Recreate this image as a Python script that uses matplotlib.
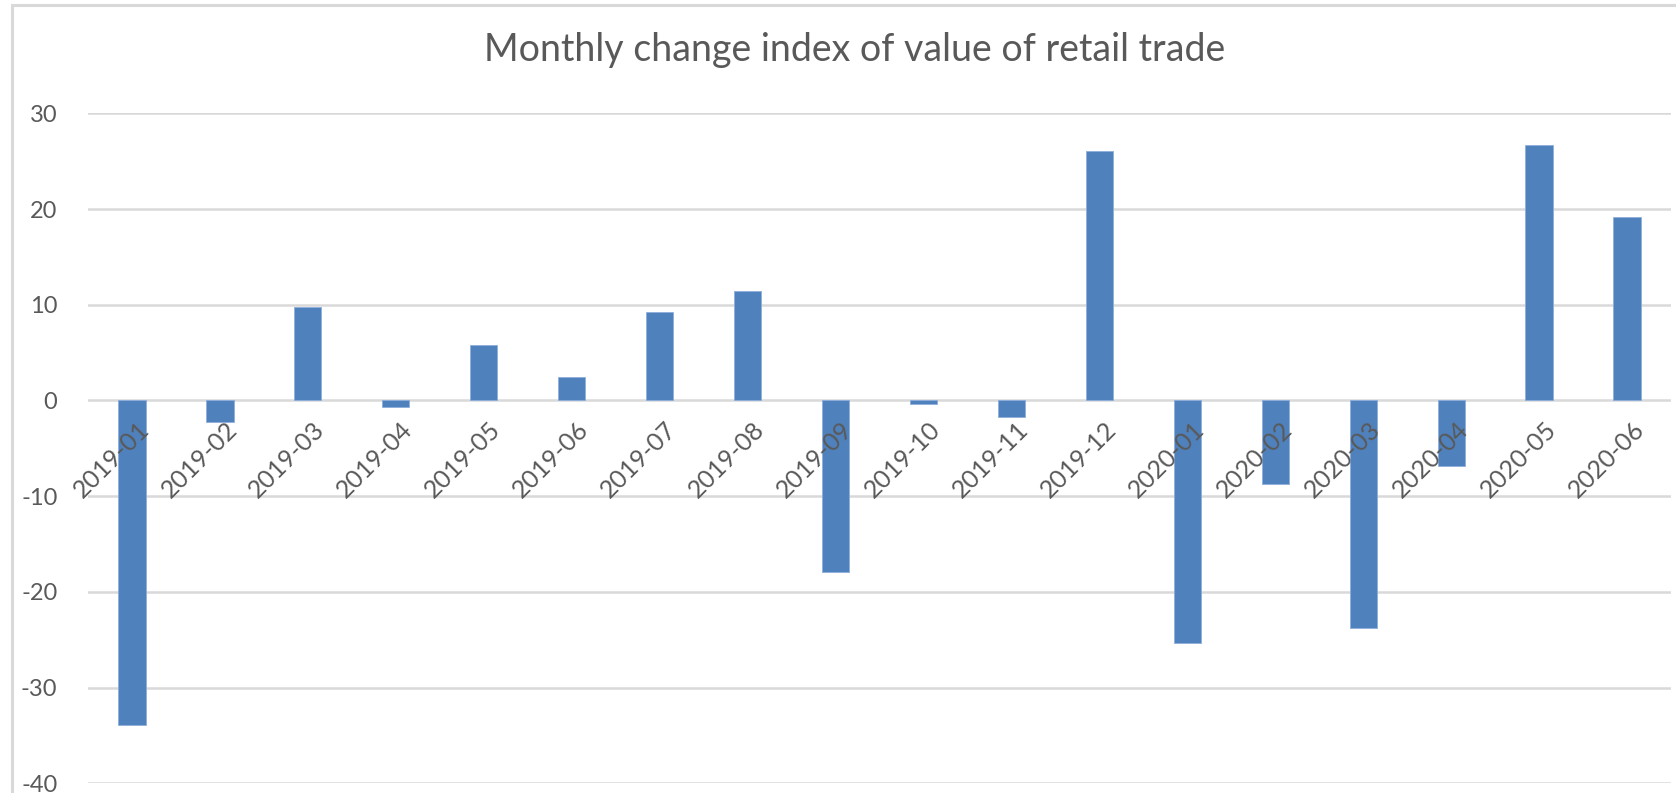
import matplotlib
matplotlib.use("Agg")
import matplotlib.pyplot as plt
from matplotlib.patches import Rectangle
import matplotlib.transforms as mtransforms
import numpy as np

plt.rcParams['font.family'] = ['Lato', 'DejaVu Sans']
plt.rcParams['axes.unicode_minus'] = False

months = ['2019-01', '2019-02', '2019-03', '2019-04', '2019-05', '2019-06',
          '2019-07', '2019-08', '2019-09', '2019-10', '2019-11', '2019-12',
          '2020-01', '2020-02', '2020-03', '2020-04', '2020-05', '2020-06']
change = [-33.9, -2.3, 9.8, -0.7, 5.8, 2.4,
          9.2, 11.4, -17.9, -0.4, -1.7, 26.1,
          -25.3, -8.7, -23.8, -6.9, 26.7, 19.2]
y_ticks = [30, 20, 10, 0, -10, -20, -30, -40]

W, H = 1676, 793
fig = plt.figure(figsize=(W / 100, H / 100), dpi=100)
fig.patch.set_facecolor('white')

# chart area border (Excel style), cropped on the right and bottom
fig.patches.append(Rectangle((12 / W, -0.2), 1.5, 1.2 - 5 / H,
                             transform=fig.transFigure, fill=False,
                             edgecolor='#d9d9d9', linewidth=2.2))

ax = fig.add_axes([88 / W, 1 - 783.3 / H, (1671 - 88) / W, (783.3 - 113.3) / H])
x = np.arange(len(months))
ax.bar(x, change, width=0.31, color='#4f81bd', edgecolor='#8eaedb',
       linewidth=0.6, zorder=2)

ax.set_xlim(-0.5, len(months) - 0.5)
ax.set_ylim(-40, 30)
ax.set_yticks(y_ticks)
ax.grid(axis='y', color='#d9d9d9', linewidth=1.8)
ax.tick_params(axis='y', length=0, pad=22, labelsize=17, labelcolor='#595959')

for s in ['top', 'right', 'left']:
    ax.spines[s].set_visible(False)
ax.spines['bottom'].set_position(('data', 0))
ax.spines['bottom'].set_visible(False)

ax.set_xticks(x)
ax.set_xticklabels(months, rotation=45, ha='right', va='top',
                   rotation_mode='anchor')
ax.tick_params(axis='x', length=0, pad=12, labelsize=18, labelcolor='#595959')
offset = mtransforms.ScaledTranslation(5 / 100, 0, fig.dpi_scale_trans)
for lab in ax.get_xticklabels():
    lab.set_transform(lab.get_transform() + offset)

# gridlines behind the bars, month labels in front of them
ax.yaxis.set_zorder(1)
ax.xaxis.set_zorder(4)

fig.text(855 / W, 1 - 50 / H, 'Monthly change index of value of retail trade',
         ha='center', va='center', fontsize=27, color='#595959')

fig.savefig('out.png', dpi=100)
